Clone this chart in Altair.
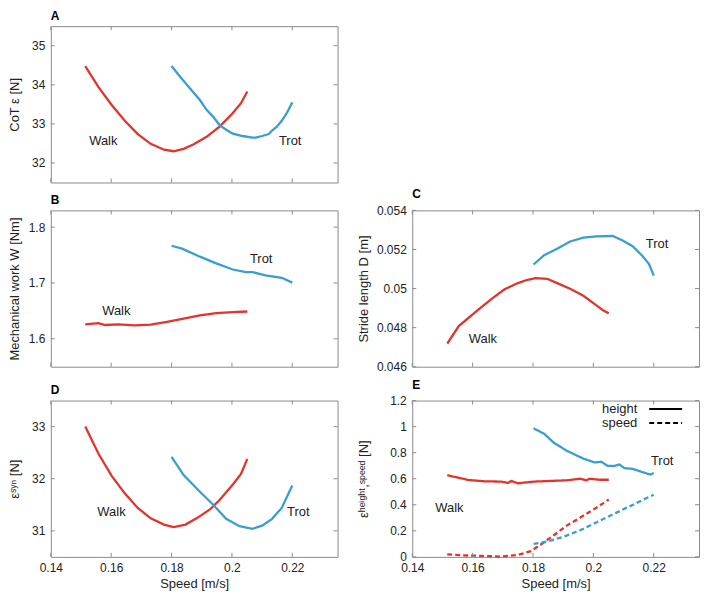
import altair as alt
import pandas as pd

FONT = "Liberation Sans"
RED = "#e2342c"
BLUE = "#3a9ed0"
TXT = "#222222"
FRAME = "#8a8a8a"

X_DOMAIN = [0.14, 0.235]
X_TICKS = [0.14, 0.16, 0.18, 0.2, 0.22]
W, H = 288, 157

# ---------------- Panel A: CoT epsilon [N]
a_walk_speed = [0.1514, 0.1558, 0.1601, 0.1645, 0.1688, 0.1731, 0.1775, 0.1807, 0.1840, 0.1872, 0.1916, 0.1959, 0.2003, 0.2030, 0.2051]
a_walk_val = [34.48, 33.94, 33.49, 33.08, 32.74, 32.49, 32.34, 32.30, 32.36, 32.47, 32.67, 32.93, 33.28, 33.53, 33.83]
a_trot_speed = [0.1800, 0.1829, 0.1862, 0.1894, 0.1916, 0.1938, 0.1959, 0.1981, 0.2003, 0.2035, 0.2068, 0.2079, 0.2100, 0.2122, 0.2133, 0.2149, 0.2165, 0.2182, 0.2200]
a_trot_val = [34.48, 34.20, 33.90, 33.61, 33.36, 33.18, 32.97, 32.85, 32.75, 32.69, 32.65, 32.65, 32.69, 32.74, 32.83, 32.93, 33.08, 33.28, 33.55]

# ---------------- Panel B: mechanical work W [Nm]
b_walk_speed = [0.1514, 0.1558, 0.1580, 0.1623, 0.1677, 0.1731, 0.1785, 0.1840, 0.1894, 0.1948, 0.2003, 0.2051]
b_walk_val = [1.6259, 1.6282, 1.6247, 1.6259, 1.6241, 1.6253, 1.6305, 1.6362, 1.6420, 1.6460, 1.6477, 1.6489]
b_trot_speed = [0.1800, 0.1835, 0.1894, 0.1948, 0.2003, 0.2046, 0.2068, 0.2111, 0.2165, 0.2200]
b_trot_val = [1.7667, 1.7615, 1.7471, 1.7351, 1.7241, 1.7195, 1.7195, 1.7138, 1.7092, 1.7006]

# ---------------- Panel C: stride length D [m]
c_walk_speed = [0.1516, 0.1554, 0.1620, 0.1663, 0.1706, 0.1750, 0.1782, 0.1809, 0.1847, 0.1880, 0.1923, 0.1967, 0.2010, 0.2032, 0.2051]
c_walk_val = [0.04718, 0.04808, 0.04893, 0.04947, 0.04996, 0.05028, 0.05045, 0.05053, 0.05050, 0.05028, 0.04999, 0.04963, 0.04914, 0.04889, 0.04873]
c_trot_speed = [0.1802, 0.1837, 0.1880, 0.1923, 0.1967, 0.2010, 0.2064, 0.2097, 0.2130, 0.2162, 0.2184, 0.2200]
c_trot_val = [0.05123, 0.05171, 0.05204, 0.05241, 0.05261, 0.05267, 0.05269, 0.05246, 0.05217, 0.05168, 0.05127, 0.05066]

# ---------------- Panel D: epsilon Syn [N]
d_walk_speed = [0.1514, 0.1558, 0.1601, 0.1645, 0.1688, 0.1731, 0.1775, 0.1807, 0.1846, 0.1883, 0.1927, 0.1959, 0.2003, 0.2030, 0.2051]
d_walk_val = [33.00, 32.48, 32.06, 31.72, 31.44, 31.24, 31.12, 31.07, 31.12, 31.24, 31.41, 31.59, 31.89, 32.09, 32.38]
d_trot_speed = [0.1800, 0.1840, 0.1894, 0.1938, 0.1981, 0.2025, 0.2068, 0.2100, 0.2133, 0.2165, 0.2200]
d_trot_val = [32.42, 32.07, 31.75, 31.50, 31.23, 31.09, 31.04, 31.10, 31.23, 31.44, 31.87]

# ---------------- Panel E: epsilon height / speed [N]
e_walk_h_speed = [0.1516, 0.1554, 0.1587, 0.1641, 0.1695, 0.1717, 0.1728, 0.1750, 0.1803, 0.1858, 0.1912, 0.1956, 0.1977, 0.1988, 0.2021, 0.2051]
e_walk_h_val = [0.627, 0.607, 0.590, 0.580, 0.578, 0.568, 0.583, 0.565, 0.578, 0.583, 0.588, 0.600, 0.588, 0.600, 0.592, 0.592]
e_trot_h_speed = [0.1802, 0.1837, 0.1869, 0.1912, 0.1967, 0.2005, 0.2026, 0.2048, 0.2070, 0.2086, 0.2103, 0.2130, 0.2162, 0.2189, 0.2200]
e_trot_h_val = [0.987, 0.945, 0.876, 0.815, 0.754, 0.725, 0.730, 0.698, 0.698, 0.710, 0.681, 0.676, 0.651, 0.632, 0.644]
e_walk_s_speed = [0.1516, 0.1565, 0.1641, 0.1695, 0.1750, 0.1793, 0.1825, 0.1869, 0.1912, 0.1956, 0.1999, 0.2032, 0.2051]
e_walk_s_val = [0.020, 0.012, 0.007, 0.002, 0.015, 0.044, 0.093, 0.166, 0.240, 0.301, 0.362, 0.411, 0.441]
e_trot_s_speed = [0.1802, 0.1847, 0.1901, 0.1967, 0.2021, 0.2075, 0.2130, 0.2173, 0.2200]
e_trot_s_val = [0.100, 0.118, 0.154, 0.215, 0.277, 0.338, 0.399, 0.448, 0.477]

# ---------------- In-plot labels (speed, value)
label_text = ["Walk", "Trot"]
a_label_speed, a_label_val = [0.1574, 0.2193], [32.55, 32.55]
b_label_speed, b_label_val = [0.1617, 0.2097], [1.650, 1.7437]
c_label_speed, c_label_val = [0.1634, 0.2211], [0.04742, 0.0523]
d_label_speed, d_label_val = [0.1601, 0.2220], [31.37, 31.37]
e_label_speed, e_label_val = [0.1523, 0.2228], [0.375, 0.737]


def frame(pairs):
    rows = []
    for gait, kind, sp, vals in pairs:
        for s, v in zip(sp, vals):
            rows.append({"speed": s, "value": v, "gait": gait, "kind": kind, "series": gait + kind})
    return pd.DataFrame(rows)


def labels(sp, vals):
    return pd.DataFrame({"speed": sp, "value": vals, "text": label_text})


def panel(df, lab, ydom, yticks, ytitle, letter, ext, show_x, dash=False):
    xs = alt.Scale(domain=X_DOMAIN, nice=False, zero=False)
    ys = alt.Scale(domain=ydom, nice=False, zero=False)
    if show_x:
        xaxis = alt.Axis(values=X_TICKS, format="~g", title="Speed [m/s]", ticks=False,
                         domain=False, grid=False, labelPadding=6, titlePadding=4,
                         labelFlush=False)
    else:
        xaxis = None
    yaxis = alt.Axis(values=yticks, format="~g", title=ytitle, ticks=False, domain=False,
                     grid=False, labelPadding=6, titlePadding=5, minExtent=ext, maxExtent=ext)
    enc = dict(
        x=alt.X("speed:Q", scale=xs, axis=xaxis),
        y=alt.Y("value:Q", scale=ys, axis=yaxis),
        color=alt.Color("gait:N", scale=alt.Scale(domain=["Walk", "Trot"], range=[RED, BLUE]), legend=None),
        detail="series:N",
    )
    if dash:
        enc["strokeDash"] = alt.StrokeDash(
            "kind:N",
            scale=alt.Scale(domain=["height", "speed"], range=[[1, 0], [5, 3]]),
            legend=alt.Legend(title=None, orient="none", legendX=W - 40, legendY=2,
                              symbolType="M-3,0H3", symbolSize=121, symbolStrokeWidth=2,
                              symbolStrokeColor="black", labelFontSize=13, labelFont=FONT,
                              labelColor=TXT, labelAlign="right",
                              labelOffset=alt.ExprRef("-35"),
                              rowPadding=0, padding=0),
        )
    lines = alt.Chart(df).mark_line(strokeWidth=2.3).encode(**enc)
    txt = alt.Chart(lab).mark_text(fontSize=13, font=FONT, color=TXT).encode(
        x=alt.X("speed:Q", scale=xs, axis=None),
        y=alt.Y("value:Q", scale=ys, axis=None),
        text="text:N",
    )
    # inward tick marks on all four sides, placed by the shared scales
    xt = pd.DataFrame({"speed": X_TICKS})
    yt = pd.DataFrame({"value": yticks})
    rule = dict(color=FRAME, strokeWidth=1)
    xb = alt.Chart(xt).mark_rule(**rule).encode(
        x=alt.X("speed:Q", scale=xs, axis=None), y=alt.value(H), y2=alt.value(H - 4))
    xtop = alt.Chart(xt).mark_rule(**rule).encode(
        x=alt.X("speed:Q", scale=xs, axis=None), y=alt.value(0), y2=alt.value(4))
    yl = alt.Chart(yt).mark_rule(**rule).encode(
        y=alt.Y("value:Q", scale=ys, axis=None), x=alt.value(0), x2=alt.value(4))
    yr = alt.Chart(yt).mark_rule(**rule).encode(
        y=alt.Y("value:Q", scale=ys, axis=None), x=alt.value(W - 4), x2=alt.value(W))
    return (
        alt.layer(lines, txt, xb, xtop, yl, yr)
        .resolve_axis(x="independent", y="independent")
        .properties(
            width=W, height=H,
            title=alt.TitleParams(letter, anchor="start", frame="group", fontSize=12,
                                  fontWeight="bold", offset=3, font=FONT, color="black"),
        )
    )


dfA = frame([("Walk", "", a_walk_speed, a_walk_val), ("Trot", "", a_trot_speed, a_trot_val)])
dfB = frame([("Walk", "", b_walk_speed, b_walk_val), ("Trot", "", b_trot_speed, b_trot_val)])
dfC = frame([("Walk", "", c_walk_speed, c_walk_val), ("Trot", "", c_trot_speed, c_trot_val)])
dfD = frame([("Walk", "", d_walk_speed, d_walk_val), ("Trot", "", d_trot_speed, d_trot_val)])
dfE = frame([
    ("Walk", "height", e_walk_h_speed, e_walk_h_val),
    ("Trot", "height", e_trot_h_speed, e_trot_h_val),
    ("Walk", "speed", e_walk_s_speed, e_walk_s_val),
    ("Trot", "speed", e_trot_s_speed, e_trot_s_val),
])

LEFT_EXT = 24
RIGHT_EXT = 37

pA = panel(dfA, labels(a_label_speed, a_label_val), [31.5, 35.5], [32, 33, 34, 35],
           "CoT ε [N]", "A", LEFT_EXT, False)
pB = panel(dfB, labels(b_label_speed, b_label_val), [1.55, 1.83], [1.6, 1.7, 1.8],
           "Mechanical work W [Nm]", "B", LEFT_EXT, False)
pC = panel(dfC, labels(c_label_speed, c_label_val), [0.046, 0.054],
           [0.046, 0.048, 0.05, 0.052, 0.054], "Stride length D [m]", "C", RIGHT_EXT, False)
pD = panel(dfD, labels(d_label_speed, d_label_val), [30.5, 33.5], [31, 32, 33],
           "εˢʸⁿ [N]", "D", LEFT_EXT, True)
pE = panel(dfE, labels(e_label_speed, e_label_val), [0, 1.2], [0, 0.2, 0.4, 0.6, 0.8, 1, 1.2],
           "εʰᵉⁱᵍʰᵗ,ˢᵖᵉᵉᵈ [N]", "E", RIGHT_EXT, True, dash=True)

row2 = alt.hconcat(pB, pC, spacing=18).resolve_legend(strokeDash="independent", color="independent")
row3 = alt.hconcat(pD, pE, spacing=18).resolve_legend(strokeDash="independent", color="independent")

chart = (
    alt.vconcat(pA, row2, row3, spacing=4)
    .resolve_legend(strokeDash="independent", color="independent")
    .properties(padding=0)
    .configure_view(stroke=FRAME, strokeWidth=1)
    .configure_axis(labelFont=FONT, titleFont=FONT, labelFontSize=12, titleFontSize=13,
                    labelColor=TXT, titleColor=TXT, titleFontWeight="normal")
)

chart.save("out.html", embed_options={"renderer": "svg", "actions": False})
